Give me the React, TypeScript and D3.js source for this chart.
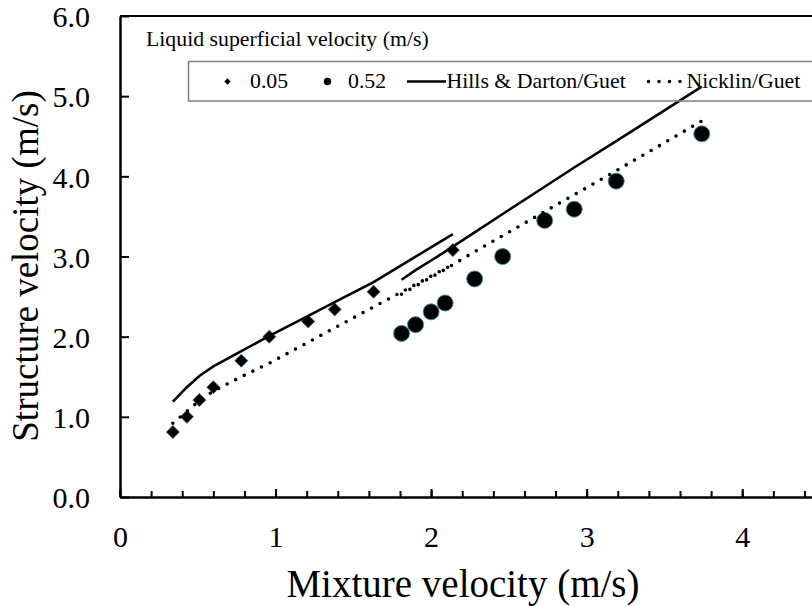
import { useEffect, useRef } from "react"
import * as d3 from "d3"

// 0.05 m/s liquid superficial velocity (diamonds)
const lowX = [0.34, 0.43, 0.51, 0.6, 0.78, 0.96, 1.21, 1.38, 1.63, 2.14]
const lowY = [0.81, 1.0, 1.21, 1.37, 1.7, 2.0, 2.19, 2.34, 2.56, 3.08]
// 0.52 m/s liquid superficial velocity (circles)
const highX = [1.81, 1.9, 2.0, 2.09, 2.28, 2.46, 2.73, 2.92, 3.19, 3.74]
const highY = [2.04, 2.15, 2.31, 2.42, 2.72, 3.0, 3.45, 3.59, 3.94, 4.53]
// model predictions at the measured mixture velocities
const hillsLow = [1.19, 1.37, 1.51, 1.63, 1.82, 2.01, 2.26, 2.43, 2.68, 3.28]
const hillsHigh = [2.71, 2.83, 2.95, 3.06, 3.3, 3.53, 3.87, 4.11, 4.44, 5.12]
const nicklinLow = [0.92, 1.07, 1.2, 1.32, 1.5, 1.67, 1.93, 2.11, 2.37, 2.9]
const nicklinHigh = [2.53, 2.63, 2.74, 2.84, 3.06, 3.26, 3.56, 3.77, 4.07, 4.69]

const xTicks = [0, 1, 2, 3, 4]
const yTicks = [0, 1, 2, 3, 4, 5, 6]

const FONT = "'Liberation Serif', 'Times New Roman', serif"

export default function App() {
  const svgRef = useRef<SVGSVGElement | null>(null)

  useEffect(() => {
    if (!svgRef.current) return
    document.body.style.margin = "0"

    const svg = d3.select(svgRef.current)
    svg.selectAll("*").remove()

    const x = d3.scaleLinear().domain([0, 4.5]).range([120, 820])
    const y = d3.scaleLinear().domain([0, 6]).range([497, 16])

    // top frame line
    svg
      .append("line")
      .attr("x1", x(0))
      .attr("x2", x(4.5))
      .attr("y1", y(6))
      .attr("y2", y(6))
      .attr("stroke", "#000")
      .attr("stroke-width", 2.2)

    // minor x ticks
    const minor = svg
      .append("g")
      .attr("transform", `translate(0,${y(0)})`)
      .call(
        d3
          .axisBottom(x)
          .tickValues(d3.range(0, 45, 2).map((d) => d / 10))
          .tickSize(-6)
          .tickSizeOuter(0)
          .tickFormat(() => ""),
      )
    minor.select(".domain").remove()
    minor.selectAll("line").attr("stroke-width", 2)

    // x axis
    const xAxis = svg
      .append("g")
      .attr("transform", `translate(0,${y(0)})`)
      .call(
        d3
          .axisBottom(x)
          .tickValues(xTicks)
          .tickSize(-8)
          .tickSizeOuter(0)
          .tickPadding(29)
          .tickFormat(d3.format("d")),
      )
    xAxis.select(".domain").attr("stroke-width", 2.5)
    xAxis.selectAll("line").attr("stroke-width", 2)
    xAxis.selectAll("text").style("font-family", FONT).style("font-size", "30px").attr("fill", "#000")

    // y axis
    const yAxis = svg
      .append("g")
      .attr("transform", `translate(${x(0)},0)`)
      .call(
        d3
          .axisLeft(y)
          .tickValues(yTicks)
          .tickSize(-9)
          .tickSizeOuter(0)
          .tickPadding(30)
          .tickFormat(d3.format(".1f")),
      )
    yAxis.select(".domain").attr("stroke-width", 2.5)
    yAxis.selectAll("line").attr("stroke-width", 2)
    yAxis
      .selectAll("text")
      .style("font-family", FONT)
      .style("font-size", "30px")
      .attr("fill", "#000")
      .attr("dy", "0.36em")

    // axis titles
    svg
      .append("text")
      .attr("x", 463)
      .attr("y", 597)
      .attr("text-anchor", "middle")
      .style("font-family", FONT)
      .style("font-size", "39px")
      .text("Mixture velocity (m/s)")

    svg
      .append("text")
      .attr("transform", `translate(38,266) rotate(-90)`)
      .attr("text-anchor", "middle")
      .style("font-family", FONT)
      .style("font-size", "37px")
      .text("Structure velocity (m/s)")

    const diamond = d3.symbol().type(d3.symbolDiamond2)

    // measured points
    svg
      .append("g")
      .selectAll("path")
      .data(lowX.map((v, i) => [v, lowY[i]]))
      .enter()
      .append("path")
      .attr("d", diamond.size(108)())
      .attr("transform", (d) => `translate(${x(d[0])},${y(d[1])})`)
      .attr("fill", "#000")
      .attr("stroke", "#34607a")
      .attr("stroke-width", 0.8)

    svg
      .append("g")
      .selectAll("circle")
      .data(highX.map((v, i) => [v, highY[i]]))
      .enter()
      .append("circle")
      .attr("cx", (d) => x(d[0]))
      .attr("cy", (d) => y(d[1]))
      .attr("r", 8)
      .attr("fill", "#000")
      .attr("stroke", "#3a8f9e")
      .attr("stroke-width", 0.9)

    const line = d3
      .line<number[]>()
      .x((d) => x(d[0]))
      .y((d) => y(d[1]))

    const models = [
      { xs: lowX, ys: hillsLow, dotted: false },
      { xs: highX, ys: hillsHigh, dotted: false },
      { xs: lowX, ys: nicklinLow, dotted: true },
      { xs: highX, ys: nicklinHigh, dotted: true },
    ]
    models.forEach((m) => {
      svg
        .append("path")
        .datum(m.xs.map((v, i) => [v, m.ys[i]]))
        .attr("fill", "none")
        .attr("stroke", "#000")
        .attr("stroke-width", m.dotted ? 3.6 : 2.6)
        .attr("stroke-linecap", m.dotted ? "round" : "butt")
        .attr("stroke-dasharray", m.dotted ? "0 9.6" : null)
        .attr("d", line)
    })

    // legend
    svg
      .append("text")
      .attr("x", 146)
      .attr("y", 46)
      .style("font-family", FONT)
      .style("font-size", "21.8px")
      .text("Liquid superficial velocity (m/s)")

    svg
      .append("rect")
      .attr("x", 188.5)
      .attr("y", 61.5)
      .attr("width", 640)
      .attr("height", 39.5)
      .attr("fill", "none")
      .attr("stroke", "#808080")
      .attr("stroke-width", 1.5)

    const lg = svg.append("g").style("font-family", FONT).style("font-size", "21.8px")
    lg.append("path")
      .attr("d", diamond.size(26)())
      .attr("transform", "translate(227.5,81.5)")
      .attr("fill", "#000")
    lg.append("text").attr("x", 250).attr("y", 88).text("0.05")
    lg.append("circle").attr("cx", 327.5).attr("cy", 81.5).attr("r", 3.7).attr("fill", "#000")
    lg.append("text").attr("x", 348).attr("y", 88).text("0.52")
    lg.append("line")
      .attr("x1", 407)
      .attr("x2", 446)
      .attr("y1", 81.5)
      .attr("y2", 81.5)
      .attr("stroke", "#000")
      .attr("stroke-width", 2.6)
    lg.append("text").attr("x", 446.5).attr("y", 88).text("Hills & Darton/Guet")
    lg.append("line")
      .attr("x1", 648.5)
      .attr("x2", 682)
      .attr("y1", 81.5)
      .attr("y2", 81.5)
      .attr("stroke", "#000")
      .attr("stroke-width", 3.6)
      .attr("stroke-linecap", "round")
      .attr("stroke-dasharray", "0 10.5")
    lg.append("text").attr("x", 686.5).attr("y", 88).text("Nicklin/Guet")
  }, [])

  return <svg ref={svgRef} width={812} height={606} style={{ display: "block", background: "#fff" }}></svg>
}
